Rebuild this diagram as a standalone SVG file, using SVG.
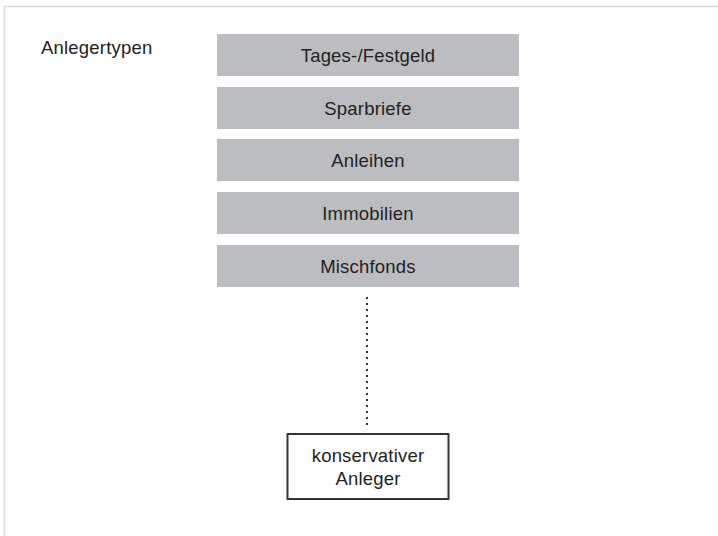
<svg xmlns="http://www.w3.org/2000/svg" width="718" height="536" viewBox="0 0 718 536">
<style>
.t{font-family:"Liberation Sans",Arial,Helvetica,sans-serif;font-size:18.5px;letter-spacing:0.2px;fill:#222}
.c{text-anchor:middle}
.g{fill:#bcbdc0}
.frame{stroke:#dcdcdc;stroke-width:1.5;fill:none}
</style>
<rect width="718" height="536" fill="#fff"/>
<path class="frame" d="M4.5 536 V6.5 H718"/>
<text class="t" x="41" y="54">Anlegertypen</text>
<g id="n1"><rect class="g" x="217" y="34" width="302" height="42"/><text class="t c" x="368" y="62">Tages-/Festgeld</text></g>
<g id="n2"><rect class="g" x="217" y="87" width="302" height="42"/><text class="t c" x="368" y="115">Sparbriefe</text></g>
<g id="n3"><rect class="g" x="217" y="139" width="302" height="42"/><text class="t c" x="368" y="167">Anleihen</text></g>
<g id="n4"><rect class="g" x="217" y="192" width="302" height="42"/><text class="t c" x="368" y="220">Immobilien</text></g>
<g id="n5"><rect class="g" x="217" y="245" width="302" height="42"/><text class="t c" x="368" y="273">Mischfonds</text></g>
<g id="connectors"><line x1="367" y1="297" x2="367" y2="428" stroke="#333" stroke-width="2" stroke-dasharray="2 4"/></g>
<g id="n6"><rect x="287.5" y="434" width="161" height="65" fill="#fff" stroke="#333" stroke-width="2"/><text class="t c" x="368" y="462">konservativer</text><text class="t c" x="368" y="485">Anleger</text></g>
</svg>
